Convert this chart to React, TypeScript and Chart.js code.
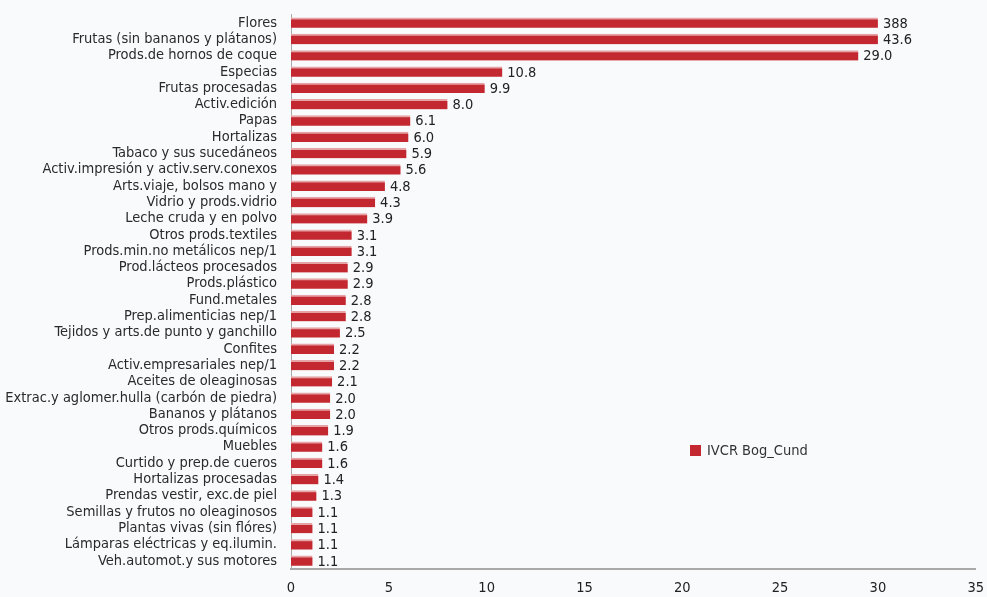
import React, { useEffect, useRef } from "react";
import { Chart, registerables } from "chart.js";

Chart.register(...registerables);

// IVCR by product group, Bogotá–Cundinamarca
const categories: string[] = [
  "Flores",
  "Frutas (sin bananos y plátanos)",
  "Prods.de hornos de coque",
  "Especias",
  "Frutas procesadas",
  "Activ.edición",
  "Papas",
  "Hortalizas",
  "Tabaco y sus sucedáneos",
  "Activ.impresión y activ.serv.conexos",
  "Arts.viaje, bolsos mano y",
  "Vidrio y prods.vidrio",
  "Leche cruda y en polvo",
  "Otros prods.textiles",
  "Prods.min.no metálicos nep/1",
  "Prod.lácteos procesados",
  "Prods.plástico",
  "Fund.metales",
  "Prep.alimenticias nep/1",
  "Tejidos y arts.de punto y ganchillo",
  "Confites",
  "Activ.empresariales nep/1",
  "Aceites de oleaginosas",
  "Extrac.y aglomer.hulla (carbón de piedra)",
  "Bananos y plátanos",
  "Otros prods.químicos",
  "Muebles",
  "Curtido y prep.de cueros",
  "Hortalizas procesadas",
  "Prendas vestir, exc.de piel",
  "Semillas y frutos no oleaginosos",
  "Plantas vivas (sin flóres)",
  "Lámparas eléctricas y eq.ilumin.",
  "Veh.automot.y sus motores",
];

const ivcrBogCund: number[] = [
  388, 43.6, 29.0, 10.8, 9.9, 8.0, 6.1, 6.0, 5.9, 5.6, 4.8, 4.3, 3.9, 3.1, 3.1,
  2.9, 2.9, 2.8, 2.8, 2.5, 2.2, 2.2, 2.1, 2.0, 2.0, 1.9, 1.6, 1.6, 1.4, 1.3,
  1.1, 1.1, 1.1, 1.1,
];

const xTicks: number[] = [0, 5, 10, 15, 20, 25, 30, 35];

const seriesName = "IVCR Bog_Cund";

// Values beyond this point are off the scale and their bars stop here
const OFF_SCALE_CAP = 30;

const FONT = "'Liberation Sans Narrow', 'DejaVu Sans Condensed', 'Roboto Condensed', 'Noto Sans', sans-serif";
const BAR_RED = "#c3272f";
const BAR_TOP = "#e6a3a6";

const fmt = (v: number) => (v >= 100 ? v.toFixed(0) : v.toFixed(1));

const valueLabels = {
  id: "valueLabels",
  afterDatasetsDraw(chart: any) {
    const { ctx } = chart;
    const meta = chart.getDatasetMeta(0);
    ctx.save();
    ctx.font = `14.5px ${FONT}`;
    ctx.fillStyle = "#222";
    ctx.textAlign = "left";
    ctx.textBaseline = "middle";
    meta.data.forEach((bar: any, i: number) => {
      ctx.fillText(fmt(ivcrBogCund[i]), bar.x + 5, bar.y + 1);
    });
    ctx.restore();
  },
};

const innerLegend = {
  id: "innerLegend",
  afterDraw(chart: any) {
    const { ctx } = chart;
    ctx.save();
    ctx.fillStyle = BAR_RED;
    ctx.fillRect(690, 445, 11, 11);
    ctx.font = `14.5px ${FONT}`;
    ctx.fillStyle = "#333";
    ctx.textAlign = "left";
    ctx.textBaseline = "middle";
    ctx.fillText(seriesName, 707, 451);
    ctx.restore();
  },
};

export default function App() {
  const canvasRef = useRef<HTMLCanvasElement | null>(null);

  useEffect(() => {
    document.body.style.margin = "0";
    document.body.style.background = "#f9fafc";
    const canvas = canvasRef.current;
    if (!canvas) return;
    const chart = new Chart(canvas, {
      type: "bar",
      data: {
        labels: categories,
        datasets: [
          {
            label: seriesName,
            data: ivcrBogCund.map((v) => Math.min(v, OFF_SCALE_CAP)),
            backgroundColor: BAR_RED,
            borderColor: BAR_TOP,
            borderWidth: { top: 2, left: 0, right: 0, bottom: 0 },
            borderSkipped: false,
            barThickness: 10,
          },
        ],
      },
      options: {
        indexAxis: "y",
        animation: false,
        responsive: false,
        maintainAspectRatio: false,
        layout: { padding: { top: 6, right: 8, left: 0, bottom: 0 } },
        plugins: {
          legend: { display: false },
          tooltip: { enabled: false },
        },
        scales: {
          x: {
            type: "linear",
            min: 0,
            max: 35,
            afterBuildTicks: (scale: any) => {
              scale.ticks = xTicks.map((value) => ({ value }));
            },
            afterFit: (scale: any) => {
              scale.height = 28;
            },
            grid: { display: false },
            border: { display: true, color: "#a9a9a9", width: 2 },
            ticks: {
              color: "#222",
              padding: 3,
              font: { family: FONT, size: 14.5 },
              maxRotation: 0,
            },
          },
          y: {
            afterFit: (scale: any) => {
              scale.width = 291;
            },
            grid: { display: false },
            border: { display: true, color: "#a9a9a9", width: 1 },
            ticks: {
              color: "#2a2a2a",
              padding: 6,
              autoSkip: false,
              font: { family: FONT, size: 14.5 },
            },
          },
        },
      },
      plugins: [valueLabels, innerLegend],
    });
    return () => chart.destroy();
  }, []);

  return (
    <div style={{ width: 987, height: 597, background: "#f9fafc" }}>
      <canvas ref={canvasRef} width={987} height={597} style={{ display: "block" }} />
    </div>
  );
}
